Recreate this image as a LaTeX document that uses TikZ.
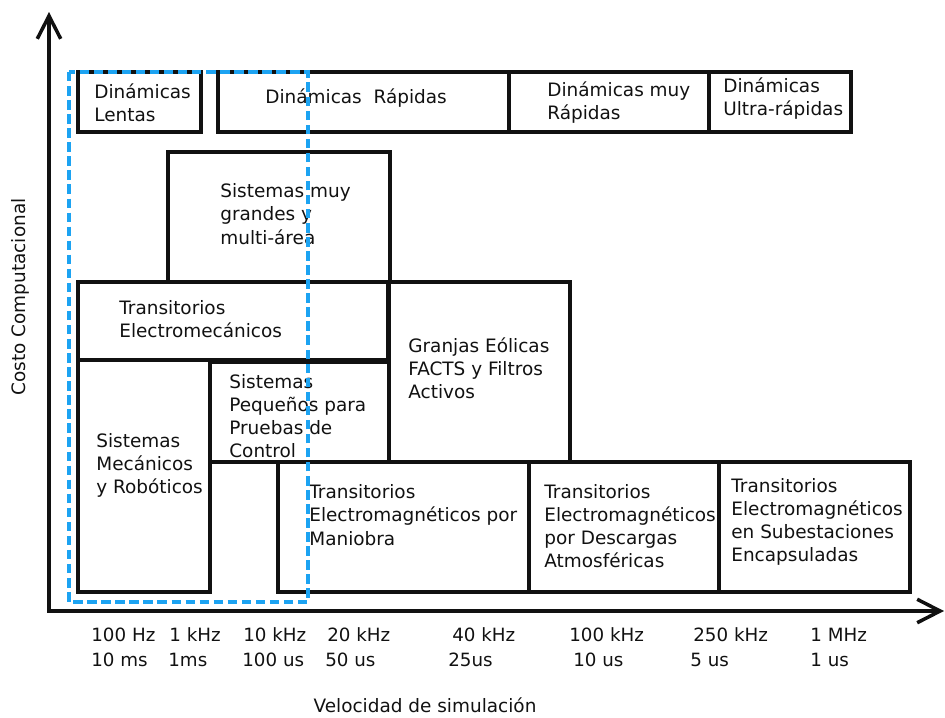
\documentclass[tikz,border=0pt]{standalone}
\usepackage{fontspec}
\setmainfont{DejaVu Sans}
\usepackage{xcolor}
\usepackage{tikz}
\usetikzlibrary{arrows.meta}
\definecolor{Ink}{HTML}{111111}
\definecolor{Sky}{HTML}{1CA3F2}
\tikzset{
  block/.style={draw=Ink,line width=2pt},
  blocktext/.style={anchor=west,align=left,inner sep=0pt,text=Ink,font=\fontsize{10.5}{13.2}\selectfont},
  scalelabel/.style={anchor=west,inner sep=0pt,text=Ink,font=\fontsize{10.4}{12}\selectfont},
  axisname/.style={inner sep=0pt,text=Ink,font=\fontsize{10.5}{12}\selectfont},
  axisline/.style={draw=Ink,line width=2pt,{Straight Barb[length=4.6mm,width=4.7mm]}-{Straight Barb[length=4.6mm,width=4.7mm]}},
  window/.style={draw=Sky,line width=2pt,dash pattern=on 5.4pt off 2.6pt}
}

\begin{document}
\begin{tikzpicture}[x=0.02cm,y=-0.02cm]
  \useasboundingbox (0,0) rectangle (945,717);
  \coordinate (ytop) at (49,12);
  \coordinate (origin) at (49,611);
  \coordinate (xend) at (944,611);
  \draw[axisline] (ytop) -- (origin) -- (xend);
  \draw[block] (78,72) rectangle (201,132);
  \draw[block] (218,72) rectangle (509,132);
  \draw[block] (509,72) rectangle (709,132);
  \draw[block] (709,72) rectangle (851,132);
  \draw[block] (168,152) rectangle (390,282);
  \draw[block] (78,282) rectangle (388,360);
  \draw[block] (389,282) rectangle (570,462);
  \draw[block] (78,360) rectangle (210,592);
  \draw[block] (210,362) rectangle (389,462);
  \draw[block] (278,462) rectangle (529,592);
  \draw[block] (529,462) rectangle (719,592);
  \draw[block] (719,462) rectangle (910,592);
  \node[blocktext] (lentas) at (94,102.5) {Dinámicas\\Lentas};
  \node[blocktext] (rapidas) at (265,98) {Dinámicas\ \ Rápidas};
  \node[blocktext] (muyrapidas) at (547,102.5) {Dinámicas muy\\Rápidas};
  \node[blocktext] (ultra) at (723,98.5) {Dinámicas\\Ultra-rápidas};
  \node[blocktext] (grandes) at (220,214) {Sistemas muy\\grandes y\\multi-área};
  \node[blocktext] (electromec) at (119,319.5) {Transitorios\\Electromecánicos};
  \node[blocktext] (granjas) at (408,368.5) {Granjas Eólicas\\FACTS y Filtros\\Activos};
  \node[blocktext] (mecanicos) at (96,465.5) {Sistemas\\Mecánicos\\y Robóticos};
  \node[blocktext] (pequenos) at (229,416) {Sistemas\\Pequeños para\\Pruebas de\\Control};
  \node[blocktext] (maniobra) at (309,515) {Transitorios\\Electromagnéticos por\\Maniobra};
  \node[blocktext] (descargas) at (544,526) {Transitorios\\Electromagnéticos\\por Descargas\\Atmosféricas};
  \node[blocktext] (subest) at (731,522) {Transitorios\\Electromagnéticos\\en Subestaciones\\Encapsuladas};
  \draw[window] (69,72) rectangle (308,602);
  \foreach \fx/\px/\f/\p [count=\i] in {91/91/100 Hz/10 ms,169/168/1 kHz/1ms,243/242/10 kHz/100 us,327/325/20 kHz/50 us,452/448/40 kHz/25us,569/573/100 kHz/10 us,693/690/250 kHz/5 us,810/810/1 MHz/1 us}{
    \node[scalelabel] (freq\i) at (\fx,635) {\f};
    \node[scalelabel] (period\i) at (\px,660) {\p};
  }
  \node[axisname] (xname) at (425,705) {Velocidad de simulación};
  \node[axisname,rotate=90] (yname) at (20,297) {Costo Computacional};
\end{tikzpicture}
\end{document}
